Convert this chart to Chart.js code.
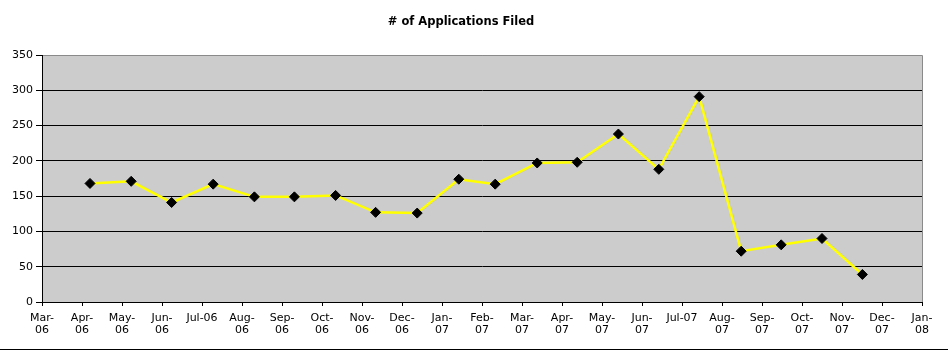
<!DOCTYPE html>
<html>
<head>
<meta charset="utf-8">
<script src="https://cdn.jsdelivr.net/npm/chart.js@4/dist/chart.umd.min.js"></script>
<style>
  html, body { margin: 0; padding: 0; background: #fff; }
</style>
</head>
<body>
<canvas id="appsChart" width="948" height="350"></canvas>
<script>
// axis labels, one per month from Mar-06 to Jan-08
const monthLabels = [
  ["Mar-", "06"], ["Apr-", "06"], ["May-", "06"], ["Jun-", "06"], "Jul-06",
  ["Aug-", "06"], ["Sep-", "06"], ["Oct-", "06"], ["Nov-", "06"], ["Dec-", "06"],
  ["Jan-", "07"], ["Feb-", "07"], ["Mar-", "07"], ["Apr-", "07"], ["May-", "07"],
  ["Jun-", "07"], "Jul-07", ["Aug-", "07"], ["Sep-", "07"], ["Oct-", "07"],
  ["Nov-", "07"], ["Dec-", "07"], ["Jan-", "08"]
];

// filing dates, in months after Mar-06
const filedAt = [1.20, 2.23, 3.24, 4.28, 5.31, 6.31, 7.34, 8.34, 9.38, 10.42,
  11.33, 12.38, 13.38, 14.41, 15.42, 16.43, 17.48, 18.48, 19.5, 20.51];

// number of applications filed
const filedCount = [168, 171, 141, 167, 149, 149, 151, 127, 126, 174,
  167, 197, 198, 238, 188, 291, 72, 81, 90, 39];

const yTicks = [0, 50, 100, 150, 200, 250, 300, 350];

const points = filedAt.map((x, i) => ({ x: x, y: filedCount[i] }));

// grey plot area + frame on the right and top
const plotBg = {
  id: "plotBg",
  beforeDraw(chart) {
    const { ctx, chartArea: a } = chart;
    ctx.save();
    ctx.fillStyle = "#cccccc";
    ctx.fillRect(a.left, a.top, a.right - a.left, a.bottom - a.top);
    ctx.strokeStyle = "#8a8a8a";
    ctx.lineWidth = 1;
    ctx.beginPath();
    ctx.moveTo(a.left, a.top + 0.5);
    ctx.lineTo(a.right + 0.5, a.top + 0.5);
    ctx.lineTo(a.right + 0.5, a.bottom);
    ctx.stroke();
    ctx.restore();
  },
  afterDraw(chart) {
    // black line along the bottom of the picture
    const ctx = chart.ctx;
    ctx.save();
    ctx.fillStyle = "#000";
    ctx.fillRect(0, chart.height - 1, chart.width, 1);
    ctx.restore();
  }
};

new Chart(document.getElementById("appsChart"), {
  type: "line",
  data: {
    datasets: [{
      label: "# of Applications Filed",
      data: points,
      borderColor: "#ffff00",
      borderWidth: 2.5,
      tension: 0,
      pointStyle: "rectRot",
      pointRadius: 5,
      pointBackgroundColor: "#000",
      pointBorderColor: "#000",
      pointBorderWidth: 1
    }]
  },
  options: {
    responsive: false,
    animation: false,
    layout: { padding: { left: 0, right: 26, top: 0, bottom: 0 } },
    plugins: {
      legend: { display: false },
      tooltip: { enabled: false },
      title: {
        display: true,
        text: "# of Applications Filed",
        color: "#000",
        font: { family: "DejaVu Sans", size: 11.5, weight: "bold" },
        padding: { top: 15, bottom: 26.2 }
      }
    },
    scales: {
      x: {
        type: "linear",
        min: 0,
        max: 22,
        afterBuildTicks(axis) {
          axis.ticks = monthLabels.map((_, i) => ({ value: i }));
        },
        afterFit(axis) { axis.height = 48; },
        border: { color: "#000", width: 1 },
        grid: { drawOnChartArea: false, drawTicks: true, tickLength: 4, color: "#000" },
        ticks: {
          autoSkip: false,
          maxRotation: 0,
          padding: 6,
          color: "#000",
          font: { family: "DejaVu Sans", size: 11, lineHeight: 1.12 },
          callback: (v) => monthLabels[v]
        }
      },
      y: {
        min: 0,
        max: 350,
        afterBuildTicks(axis) {
          axis.ticks = yTicks.map(v => ({ value: v }));
        },
        afterFit(axis) { axis.width = 42; },
        border: { color: "#000", width: 1 },
        grid: {
          color: (c) => (c.tick && c.tick.value === 350 ? "#8a8a8a" : "#000"),
          tickColor: "#000",
          tickLength: 6
        },
        ticks: {
          padding: 3,
          color: "#000",
          font: { family: "DejaVu Sans", size: 11 }
        }
      }
    }
  },
  plugins: [plotBg]
});
</script>
</body>
</html>
